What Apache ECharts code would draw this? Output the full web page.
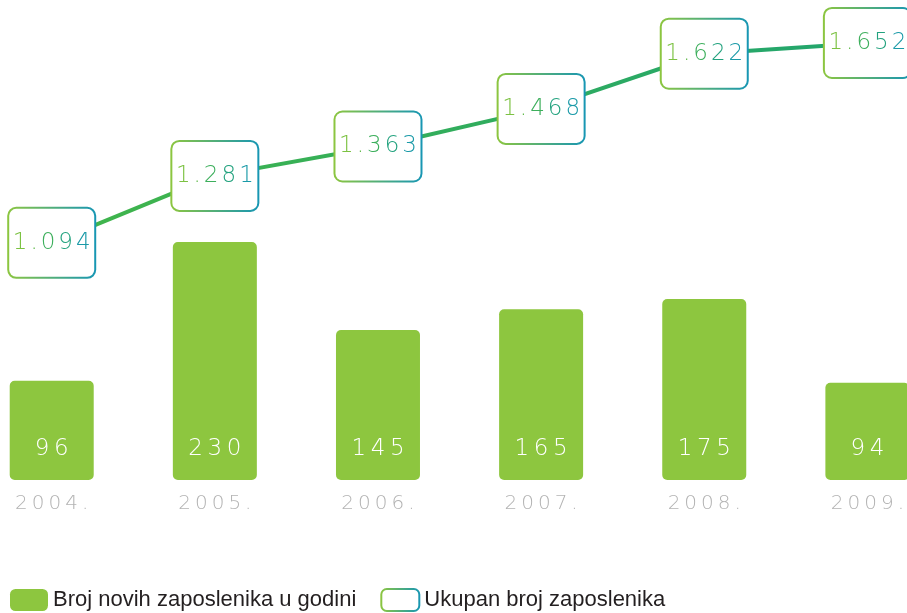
<!DOCTYPE html>
<html>
<head>
<meta charset="utf-8">
<script src="https://cdn.jsdelivr.net/npm/echarts@6/dist/echarts.min.js"></script>
<style>
  html, body { margin: 0; padding: 0; background: #fff; }
  #chart { width: 907px; height: 613px; }
</style>
</head>
<body>
<div id="chart"></div>
<script>
const years = ['2004.', '2005.', '2006.', '2007.', '2008.', '2009.']
const newEmployees = [96, 230, 145, 165, 175, 94]
const totalEmployees = [1094, 1281, 1363, 1468, 1622, 1652]
const seriesNames = ['Broj novih zaposlenika u godini', 'Ukupan broj zaposlenika']

// colours for the characters of the boxed labels, green -> teal
const charColors = ['#7cc242', '#5fba48', '#3daf5c', '#22a27e', '#1a9aa8']

const spaced = (s, sep) => String(s).split('').join(sep)
const fmtThousands = v => {
  const s = String(v)
  return s.length > 3 ? s.slice(0, s.length - 3) + '.' + s.slice(-3) : s
}

const greenTeal = (a, b) => ({
  type: 'linear',
  x: 0, y: 0, x2: 1, y2: 0,
  colorStops: [
    { offset: 0, color: a },
    { offset: 1, color: b }
  ]
})

const thinFont = { fontFamily: 'DejaVu Sans', fontWeight: 200 }

const rich = {}
charColors.forEach((c, i) => {
  rich['c' + i] = {
    ...thinFont,
    fontSize: 23,
    color: c,
    padding: [0, 1.5],
    lineHeight: 30
  }
})

const chart = echarts.init(document.getElementById('chart'))

const option = {
  backgroundColor: '#fff',
  animation: false,
  grid: {
    left: 0,
    right: 0,
    top: 0,
    bottom: 133
  },
  legend: {
    left: 5,
    top: 583,
    itemWidth: 38,
    itemHeight: 22,
    itemGap: 24,
    textStyle: {
      fontFamily: 'Liberation Sans',
      fontSize: 22,
      color: '#231f20'
    },
    data: [
      { name: seriesNames[0], icon: 'roundRect' },
      {
        name: seriesNames[1],
        icon: 'roundRect',
        itemStyle: {
          color: '#fff',
          borderColor: greenTeal('#8dc63f', '#1796b4'),
          borderWidth: 2
        }
      }
    ]
  },
  xAxis: {
    type: 'value',
    min: -0.317,
    max: 5.213,
    axisLine: { show: false },
    axisTick: { show: false },
    splitLine: { show: false },
    axisLabel: {
      customValues: years.map((y, i) => i),
      margin: 14,
      color: '#b3b3b3',
      ...thinFont,
      fontSize: 20,
      formatter: v => spaced(years[Math.round(v)], '\u2009')
    }
  },
  yAxis: [
    { type: 'value', min: 0, max: 464, show: false },
    { type: 'value', min: 432, max: 1772, show: false }
  ],
  series: [
    {
      name: seriesNames[0],
      type: 'bar',
      data: newEmployees.map((v, i) => [i, v]),
      barWidth: 84,
      itemStyle: {
        color: '#8dc63f',
        borderRadius: 5
      },
      label: {
        show: true,
        position: 'insideBottom',
        distance: 19,
        color: '#fff',
        ...thinFont,
        fontSize: 23,
        formatter: p => spaced(p.value[1], '\u2009')
      }
    },
    {
      name: seriesNames[1],
      type: 'line',
      yAxisIndex: 1,
      data: totalEmployees.map((v, i) => [i, v]),
      symbol: 'circle',
      symbolSize: 2,
      itemStyle: { color: '#3aae50' },
      lineStyle: {
        width: 4,
        color: greenTeal('#41b54b', '#22a56e')
      },
      label: {
        show: true,
        position: 'inside',
        width: 85,
        padding: [19, 0],
        align: 'center',
        backgroundColor: '#fff',
        borderColor: greenTeal('#8dc63f', '#1796b4'),
        borderWidth: 2,
        borderRadius: 7,
        rich: rich,
        formatter: p => fmtThousands(p.value[1]).split('')
          .map((ch, i) => '{c' + i + '|' + ch + '}').join('')
      }
    }
  ]
}

chart.setOption(option)
window.addEventListener('resize', () => chart.resize())
</script>
</body>
</html>
